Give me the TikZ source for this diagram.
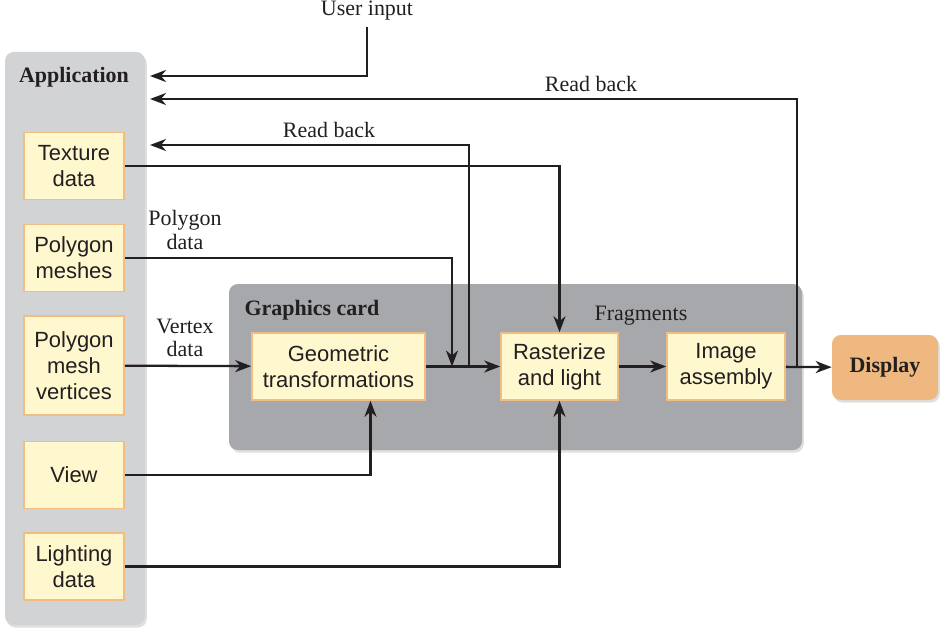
\documentclass[tikz,border=0pt]{standalone}
\usepackage{fontspec}
\setmainfont{Liberation Serif}
\setsansfont{Liberation Sans}
\usepackage{xcolor}
\usetikzlibrary{arrows.meta,positioning,shadows}
\definecolor{ink}{HTML}{231F20}
\definecolor{appgray}{HTML}{D1D3D5}
\definecolor{cardgray}{HTML}{A6A8AB}
\definecolor{datafill}{HTML}{FFF8CE}
\definecolor{dataline}{HTML}{F0BE82}
\definecolor{dispfill}{HTML}{EFB880}
\tikzset{
  panel/.style={rounded corners=5pt, draw=none, drop shadow={opacity=0.25, shadow xshift=1pt, shadow yshift=-1.5pt}},
  databox/.style={draw=dataline, fill=datafill, line width=0.9pt, align=center, inner sep=2pt, font=\sffamily\fontsize{12.5}{14.7}\selectfont, text=ink},
  dispbox/.style={panel, fill=dispfill, align=center, font=\bfseries\fontsize{12.5}{14.7}\selectfont, text=ink},
  heading/.style={font=\bfseries\fontsize{12.5}{14.7}\selectfont, text=ink},
  label/.style={font=\fontsize{12.5}{13.5}\selectfont, text=ink, align=center},
  arrow/.style={-{Stealth[length=3.2mm,width=2.4mm,inset=1mm]}, line width=1.3pt, draw=ink},
  wire/.style={line width=1.3pt, draw=ink}
}
\begin{document}
\begin{tikzpicture}
\useasboundingbox (0,0) rectangle (18.96,12.72);
% panels
\fill[panel, appgray] (0.10,0.22) rectangle (2.90,11.68);
\fill[panel, cardgray] (4.58,3.72) rectangle (16.04,7.04);
\node[heading] (apptitle) at (1.48,11.18) {Application};
\node[heading] (cardtitle) at (6.24,6.52) {Graphics card};
% application data
\node[databox, minimum width=20mm, minimum height=13.4mm] (tex) at (1.48,9.40) {Texture\\data};
\node[databox, minimum width=20mm, minimum height=13.4mm] (mesh) at (1.48,7.56) {Polygon\\meshes};
\node[databox, minimum width=20mm, minimum height=19.8mm] (vert) at (1.48,5.41) {Polygon\\mesh\\vertices};
\node[databox, minimum width=20mm, minimum height=13.4mm] (view) at (1.48,3.22) {View};
\node[databox, minimum width=20mm, minimum height=13.4mm] (light) at (1.48,1.39) {Lighting\\data};
% pipeline
\node[databox, minimum width=34.6mm, minimum height=13.4mm] (geo) at (6.77,5.39) {Geometric\\transformations};
\node[databox, minimum width=23.4mm, minimum height=13.4mm] (rast) at (11.19,5.39) {Rasterize\\and light};
\node[databox, minimum width=23.6mm, minimum height=13.4mm] (img) at (14.52,5.39) {Image\\assembly};
\node[dispbox, minimum width=21.2mm, minimum height=13mm] (disp) at (17.70,5.37) {Display};
% labels
\node[label] (user) at (7.34,12.50) {User input};
\node[label] (rb1) at (11.82,11.04) {Read back};
\node[label] (rb2) at (6.58,10.12) {Read back};
\node[label] (polylab) at (3.70,8.12) {Polygon\\data};
\node[label] (vertlab) at (3.70,5.96) {Vertex\\data};
\node[label] (fraglab) at (12.82,6.40) {Fragments};
% joints
\coordinate (inUser) at (3.0,11.20);
\coordinate (inRB1) at (3.0,10.74);
\coordinate (inRB2) at (3.0,9.82);
\coordinate (j1) at (15.94,5.39);
\coordinate (j2) at (9.38,5.39);
\coordinate (j3) at (9.04,5.39);
% connectors
\draw[arrow] (user.south) |- (inUser);
\draw[arrow] (j1) |- (inRB1);
\draw[arrow] (j2) |- (inRB2);
\draw[arrow] (tex.east) -| (rast.north);
\draw[arrow] (mesh.east) -| (j3);
\draw[arrow] (vert) -- (geo);
\draw[arrow] (geo) -- (rast);
\draw[arrow] (rast) -- (img);
\draw[arrow] (img) -- (disp);
\draw[arrow] (view.east) -| ([xshift=6.4mm]geo.south);
\draw[arrow] (light.east) -| (rast.south);
\end{tikzpicture}
\end{document}
